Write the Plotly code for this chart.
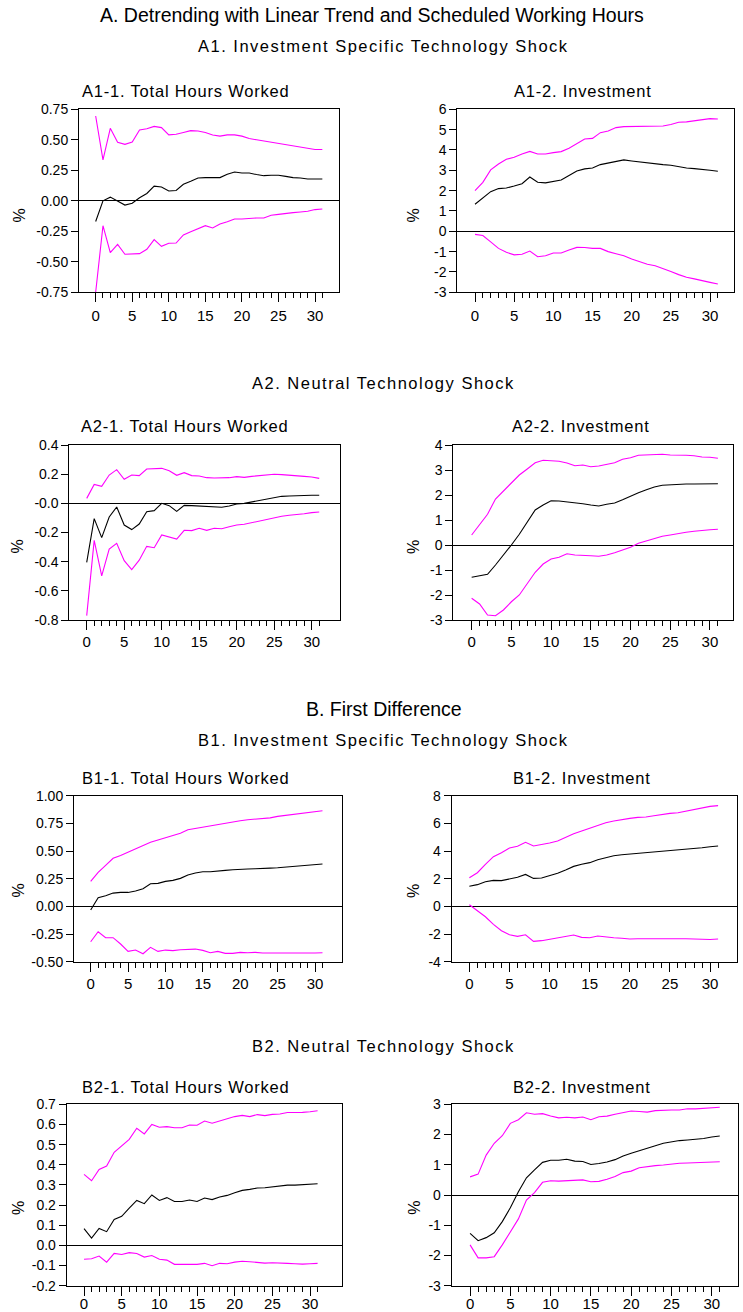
import plotly.graph_objects as go

W, H = 743, 1312
periods = list(range(32))

# ---------------- data ----------------
# A1-1 Total Hours Worked (investment specific shock, detrended)
a11_hi = [0.695, 0.335, 0.594, 0.48, 0.463, 0.482, 0.58, 0.59, 0.61, 0.60, 0.54, 0.545, 0.56, 0.575, 0.572, 0.56,
          0.54, 0.53, 0.54, 0.54, 0.53, 0.51, 0.50, 0.49, 0.48, 0.47, 0.463, 0.45, 0.444, 0.43, 0.42, 0.42]
a11_mid = [-0.17, 0.0, 0.03, 0.0, -0.035, -0.02, 0.025, 0.06, 0.12, 0.113, 0.08, 0.085, 0.135, 0.16, 0.187, 0.19,
           0.187, 0.19, 0.217, 0.236, 0.228, 0.228, 0.215, 0.206, 0.209, 0.209, 0.20, 0.19, 0.187, 0.179, 0.179, 0.179]
a11_lo = [-0.75, -0.204, -0.425, -0.357, -0.438, -0.433, -0.433, -0.397, -0.318, -0.373, -0.348, -0.346, -0.28,
          -0.253, -0.231, -0.204, -0.223, -0.19, -0.171, -0.149, -0.149, -0.143, -0.141, -0.141, -0.119, -0.111,
          -0.102, -0.097, -0.092, -0.086, -0.072, -0.067]

# A1-2 Investment
a12_hi = [2.0, 2.41, 3.02, 3.31, 3.54, 3.64, 3.80, 3.93, 3.80, 3.80, 3.87, 3.92, 4.08, 4.30, 4.54, 4.57, 4.85, 4.93,
          5.10, 5.15, 5.15, 5.16, 5.15, 5.18, 5.18, 5.25, 5.36, 5.38, 5.44, 5.49, 5.54, 5.52]
a12_mid = [1.33, 1.66, 1.95, 2.10, 2.13, 2.23, 2.34, 2.67, 2.41, 2.38, 2.44, 2.52, 2.74, 2.97, 3.07, 3.11, 3.28, 3.36,
           3.46, 3.51, 3.46, 3.41, 3.38, 3.34, 3.28, 3.25, 3.18, 3.11, 3.08, 3.05, 3.0, 2.95]
a12_lo = [-0.15, -0.21, -0.52, -0.84, -1.03, -1.16, -1.13, -0.97, -1.25, -1.20, -1.07, -1.07, -0.92, -0.79, -0.80,
          -0.84, -0.84, -1.0, -1.10, -1.20, -1.36, -1.49, -1.62, -1.69, -1.82, -1.98, -2.13, -2.26, -2.34, -2.41,
          -2.51, -2.59]

# A2-1 Total Hours Worked (neutral shock, detrended)
a21_hi = [0.034, 0.13, 0.117, 0.194, 0.231, 0.165, 0.194, 0.19, 0.235, 0.24, 0.24, 0.224, 0.192, 0.21, 0.19, 0.187,
          0.176, 0.174, 0.174, 0.176, 0.183, 0.178, 0.185, 0.19, 0.194, 0.199, 0.197, 0.192, 0.185, 0.185, 0.181, 0.171]
a21_mid = [-0.405, -0.105, -0.235, -0.094, -0.025, -0.149, -0.18, -0.142, -0.057, -0.05, 0.0, -0.016, -0.055, -0.014,
           -0.016, -0.018, -0.02, -0.025, -0.027, -0.018, -0.005, 0.0, 0.009, 0.02, 0.03, 0.041, 0.048, 0.05, 0.053,
           0.055, 0.055, 0.055]
a21_lo = [-0.77, -0.254, -0.498, -0.313, -0.274, -0.393, -0.455, -0.39, -0.295, -0.304, -0.217, -0.231, -0.245, -0.185,
          -0.187, -0.171, -0.185, -0.171, -0.174, -0.16, -0.149, -0.144, -0.133, -0.121, -0.11, -0.096, -0.089, -0.082,
          -0.078, -0.071, -0.064, -0.059]

# A2-2 Investment
a22_hi = [0.40, 0.80, 1.23, 1.84, 2.16, 2.49, 2.80, 3.04, 3.29, 3.39, 3.36, 3.35, 3.28, 3.17, 3.20, 3.13, 3.16, 3.23,
          3.29, 3.43, 3.49, 3.59, 3.61, 3.63, 3.63, 3.60, 3.61, 3.59, 3.57, 3.52, 3.51, 3.47]
a22_mid = [-1.29, -1.23, -1.17, -0.80, -0.41, 0.0, 0.43, 0.89, 1.40, 1.60, 1.77, 1.76, 1.73, 1.68, 1.65, 1.60, 1.56,
           1.63, 1.68, 1.81, 1.96, 2.09, 2.21, 2.32, 2.39, 2.41, 2.44, 2.44, 2.44, 2.45, 2.45, 2.45]
a22_lo = [-2.13, -2.36, -2.80, -2.83, -2.60, -2.27, -2.0, -1.55, -1.09, -0.76, -0.56, -0.49, -0.35, -0.40, -0.43,
          -0.43, -0.45, -0.40, -0.31, -0.21, -0.09, 0.07, 0.17, 0.27, 0.35, 0.40, 0.47, 0.51, 0.55, 0.59, 0.61, 0.63]

# B1-1 Total Hours Worked (investment specific shock, first difference)
b11_hi = [0.226, 0.307, 0.37, 0.434, 0.46, 0.49, 0.52, 0.557, 0.58, 0.60, 0.62, 0.635, 0.66, 0.693, 0.705, 0.72, 0.732,
          0.744, 0.753, 0.765, 0.774, 0.783, 0.789, 0.792, 0.80, 0.813, 0.822, 0.834, 0.843, 0.849, 0.855, 0.864]
b11_mid = [-0.033, 0.078, 0.096, 0.12, 0.126, 0.126, 0.139, 0.16, 0.205, 0.208, 0.226, 0.235, 0.253, 0.283, 0.301,
           0.313, 0.313, 0.322, 0.325, 0.331, 0.337, 0.337, 0.34, 0.34, 0.346, 0.349, 0.355, 0.358, 0.364, 0.37, 0.377,
           0.383]
b11_lo = [-0.32, -0.229, -0.283, -0.283, -0.34, -0.407, -0.395, -0.428, -0.37, -0.407, -0.395, -0.40, -0.392, -0.386,
          -0.386, -0.398, -0.419, -0.407, -0.425, -0.425, -0.416, -0.419, -0.416, -0.422, -0.422, -0.428, -0.425,
          -0.425, -0.425, -0.425, -0.422, -0.419]

# B1-2 Investment
b12_hi = [2.07, 2.43, 3.04, 3.59, 3.88, 4.22, 4.34, 4.63, 4.36, 4.46, 4.58, 4.72, 4.99, 5.25, 5.45, 5.64, 5.88, 6.05,
          6.17, 6.29, 6.36, 6.43, 6.46, 6.55, 6.65, 6.72, 6.77, 6.89, 7.01, 7.13, 7.23, 7.28]
b12_mid = [1.45, 1.57, 1.78, 1.88, 1.86, 1.98, 2.10, 2.31, 2.02, 2.05, 2.22, 2.39, 2.63, 2.89, 3.04, 3.16, 3.37, 3.54,
           3.66, 3.73, 3.78, 3.81, 3.86, 3.90, 3.95, 4.0, 4.05, 4.10, 4.17, 4.24, 4.31, 4.36]
b12_lo = [0.12, -0.29, -0.75, -1.30, -1.76, -2.05, -2.17, -2.05, -2.53, -2.48, -2.39, -2.29, -2.19, -2.07, -2.24,
          -2.27, -2.14, -2.22, -2.27, -2.31, -2.36, -2.34, -2.34, -2.31, -2.31, -2.29, -2.34, -2.34, -2.36, -2.39,
          -2.39, -2.36]

# B2-1 Total Hours Worked (neutral shock, first difference)
b21_hi = [0.352, 0.321, 0.377, 0.394, 0.462, 0.493, 0.526, 0.581, 0.553, 0.60, 0.586, 0.589, 0.584, 0.584, 0.597,
          0.596, 0.617, 0.606, 0.617, 0.625, 0.639, 0.645, 0.639, 0.649, 0.644, 0.65, 0.652, 0.659, 0.659, 0.66, 0.663,
          0.668]
b21_mid = [0.083, 0.036, 0.084, 0.068, 0.129, 0.144, 0.185, 0.223, 0.207, 0.25, 0.223, 0.237, 0.218, 0.218, 0.225,
           0.218, 0.235, 0.227, 0.24, 0.248, 0.261, 0.273, 0.278, 0.285, 0.286, 0.291, 0.296, 0.299, 0.299, 0.301,
           0.303, 0.306]
b21_lo = [-0.069, -0.066, -0.053, -0.083, -0.04, -0.045, -0.036, -0.04, -0.058, -0.05, -0.069, -0.073, -0.094, -0.094,
          -0.094, -0.094, -0.089, -0.101, -0.089, -0.091, -0.083, -0.079, -0.081, -0.083, -0.088, -0.086, -0.089,
          -0.089, -0.091, -0.093, -0.091, -0.089]

# B2-2 Investment
b22_hi = [0.60, 0.69, 1.32, 1.71, 1.96, 2.37, 2.49, 2.72, 2.67, 2.69, 2.61, 2.55, 2.57, 2.55, 2.58, 2.49, 2.59, 2.61,
          2.67, 2.72, 2.78, 2.76, 2.74, 2.79, 2.81, 2.81, 2.81, 2.85, 2.85, 2.87, 2.89, 2.90]
b22_mid = [-1.27, -1.51, -1.41, -1.25, -0.88, -0.42, 0.11, 0.57, 0.83, 1.08, 1.15, 1.15, 1.18, 1.12, 1.11, 1.01, 1.04,
           1.09, 1.17, 1.29, 1.38, 1.47, 1.54, 1.63, 1.71, 1.76, 1.80, 1.82, 1.84, 1.87, 1.92, 1.95]
b22_lo = [-1.65, -2.08, -2.08, -2.04, -1.65, -1.24, -0.79, -0.17, 0.08, 0.42, 0.47, 0.46, 0.47, 0.47, 0.50, 0.44,
          0.45, 0.52, 0.61, 0.74, 0.79, 0.90, 0.94, 0.97, 0.99, 1.03, 1.05, 1.06, 1.07, 1.07, 1.09, 1.10]

# tick labels
x_major = [0, 5, 10, 15, 20, 25, 30]
x_minor = [i for i in range(32) if i % 5 != 0]
a11_yt = [-0.75, -0.5, -0.25, 0.0, 0.25, 0.5, 0.75]
a11_ytt = ["-0.75", "-0.50", "-0.25", "0.00", "0.25", "0.50", "0.75"]
a12_yt = [-3, -2, -1, 0, 1, 2, 3, 4, 5, 6]
a12_ytt = ["-3", "-2", "-1", "0", "1", "2", "3", "4", "5", "6"]
a21_yt = [-0.8, -0.6, -0.4, -0.2, 0.0, 0.2, 0.4]
a21_ytt = ["-0.8", "-0.6", "-0.4", "-0.2", "-0.0", "0.2", "0.4"]
a22_yt = [-3, -2, -1, 0, 1, 2, 3, 4]
a22_ytt = ["-3", "-2", "-1", "0", "1", "2", "3", "4"]
b11_yt = [-0.5, -0.25, 0.0, 0.25, 0.5, 0.75, 1.0]
b11_ytt = ["-0.50", "-0.25", "0.00", "0.25", "0.50", "0.75", "1.00"]
b12_yt = [-4, -2, 0, 2, 4, 6, 8]
b12_ytt = ["-4", "-2", "0", "2", "4", "6", "8"]
b21_yt = [-0.2, -0.1, 0.0, 0.1, 0.2, 0.3, 0.4, 0.5, 0.6, 0.7]
b21_ytt = ["-0.2", "-0.1", "0.0", "0.1", "0.2", "0.3", "0.4", "0.5", "0.6", "0.7"]
b22_yt = [-3, -2, -1, 0, 1, 2, 3]
b22_ytt = ["-3", "-2", "-1", "0", "1", "2", "3"]

titles = ["A1-1. Total Hours Worked", "A1-2. Investment", "A2-1. Total Hours Worked", "A2-2. Investment",
          "B1-1. Total Hours Worked", "B1-2. Investment", "B2-1. Total Hours Worked", "B2-2. Investment"]

# ---------------- layout geometry (pixels) ----------------
FONT = "Liberation Sans, Arial, sans-serif"
MAGENTA = "#FF00FF"

panels = [
    # series, yrange, ticks, box (l, r, t, b), xrange, title xy, % xy, x-label standoff
    (a11_hi, a11_mid, a11_lo, (-0.75, 0.75), a11_yt, a11_ytt, (79, 339, 109.3, 292.3), (-2.28, 33.28), (186, 91), (18.5, 216), 1),
    (a12_hi, a12_mid, a12_lo, (-3, 6), a12_yt, a12_ytt, (457.3, 734.3, 109.3, 292.3), (-2.26, 33.1), (582.5, 91), (413.5, 215), 1),
    (a21_hi, a21_mid, a21_lo, (-0.8, 0.4), a21_yt, a21_ytt, (69.3, 340, 445, 620), (-2.32, 33.77), (185, 426), (16.5, 547), -1),
    (a22_hi, a22_mid, a22_lo, (-3, 4), a22_yt, a22_ytt, (453.3, 733.3, 445, 620), (-2.31, 32.94), (581.3, 426), (413, 547), -1),
    (b11_hi, b11_mid, b11_lo, (-0.5, 1.0), b11_yt, b11_ytt, (74, 341.7, 795.7, 961.7), (-2.23, 33.57), (186.2, 778), (17.5, 891), -1),
    (b12_hi, b12_mid, b12_lo, (-4, 8), b12_yt, b12_ytt, (451.7, 736.7, 795.7, 961.7), (-2.2, 33.32), (581.7, 778), (413, 891), -1),
    (b21_hi, b21_mid, b21_lo, (-0.2, 0.7), b21_yt, b21_ytt, (66.7, 341.7, 1104.3, 1285.7), (-2.3, 34.2), (186, 1087), (18, 1208), -5),
    (b22_hi, b22_mid, b22_lo, (-3, 3), b22_yt, b22_ytt, (451.7, 738.3, 1104.3, 1285.7), (-2.28, 33.3), (582, 1087), (413.7, 1208), -5),
]

fig = go.Figure()
annotations = []


def spaced(text, ls):
    return f'<span style="letter-spacing:{ls}px">{text}</span>'


for i, (hi, mid, lo, yr, yt, ytt, box, xr, txy, pxy, xso) in enumerate(panels, start=1):
    xa, ya = f"x{i}", f"y{i}"
    for ser, col in ((hi, MAGENTA), (mid, "black"), (lo, MAGENTA)):
        fig.add_trace(go.Scatter(x=periods, y=ser, mode="lines", xaxis=xa, yaxis=ya,
                                 line=dict(color=col, width=1.1), showlegend=False, hoverinfo="skip"))
    l, r, t, b = box
    fig.layout[f"xaxis{i}"] = dict(
        domain=[l / W, r / W], range=list(xr), anchor=ya, automargin=False,
        tickmode="array", tickvals=x_major, ticktext=[str(v) for v in x_major],
        ticks="outside", ticklen=9, tickwidth=1, tickcolor="black", ticklabelstandoff=xso,
        minor=dict(tickmode="array", tickvals=x_minor, ticks="outside", ticklen=5, tickwidth=1, tickcolor="black"),
        showline=True, mirror=True, linecolor="black", linewidth=1,
        showgrid=False, zeroline=False, fixedrange=True,
        tickfont=dict(family=FONT, size=15, color="black"))
    fig.layout[f"yaxis{i}"] = dict(
        domain=[1 - b / H, 1 - t / H], range=list(yr), anchor=xa, automargin=False,
        tickmode="array", tickvals=yt, ticktext=ytt,
        ticks="outside", ticklen=7, tickwidth=1, tickcolor="black",
        showline=True, mirror=True, linecolor="black", linewidth=1,
        showgrid=False, zeroline=True, zerolinecolor="black", zerolinewidth=1, fixedrange=True,
        tickfont=dict(family=FONT, size=14, color="black"))
    annotations.append(dict(text=spaced(titles[i - 1], 0.8), x=txy[0] / W, y=1 - txy[1] / H, xref="paper",
                            yref="paper", xanchor="center", yanchor="middle", showarrow=False,
                            font=dict(family=FONT, size=16.5, color="black")))
    annotations.append(dict(text="%", x=pxy[0] / W, y=1 - pxy[1] / H, xref="paper", yref="paper",
                            xanchor="center", yanchor="middle", showarrow=False, textangle=-90,
                            font=dict(family=FONT, size=16, color="black")))

headings = [
    ("A. Detrending with Linear Trend and Scheduled Working Hours", 372, 15, 19.5, 0),
    ("A1. Investment Specific Technology Shock", 383, 46.5, 16.5, 1.5),
    ("A2. Neutral Technology Shock", 383, 383, 16.5, 1.5),
    ("B. First Difference", 384, 709, 19.5, 0),
    ("B1. Investment Specific Technology Shock", 383.5, 740, 16.5, 1.5),
    ("B2. Neutral Technology Shock", 383.5, 1046, 16.5, 1.5),
]
for txt, hx, hy, fs, ls in headings:
    annotations.append(dict(text=spaced(txt, ls) if ls else txt, x=hx / W, y=1 - hy / H, xref="paper", yref="paper",
                            xanchor="center", yanchor="middle", showarrow=False,
                            font=dict(family=FONT, size=fs, color="black")))

fig.update_layout(template="none", width=W, height=H, margin=dict(l=0, r=0, t=0, b=0, pad=0, autoexpand=False),
                  paper_bgcolor="white", plot_bgcolor="white",
                  annotations=annotations, showlegend=False)

fig.write_html("out.html", config={"displayModeBar": False})
